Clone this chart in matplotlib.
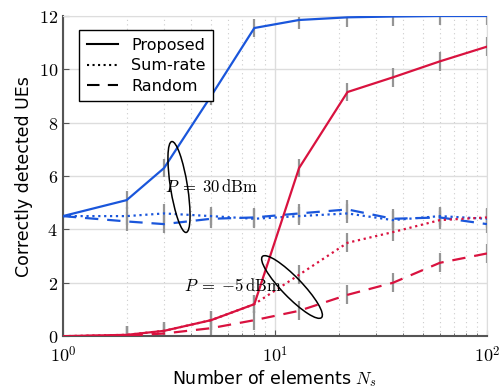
import numpy as np
import matplotlib.pyplot as plt
from matplotlib.patches import Ellipse

plt.rcParams['font.family'] = ['DejaVu Sans']
plt.rcParams['mathtext.fontset'] = 'cm'

# number of reflecting elements
Ns = [1, 2, 3, 5, 8, 13, 22, 36, 60, 100]

# P = 30 dBm
prop_30 = [4.5, 5.1, 6.3, 9.0, 11.55, 11.85, 11.95, 11.98, 12.0, 12.0]
sum_30 = [4.5, 4.5, 4.6, 4.5, 4.4, 4.5, 4.6, 4.35, 4.5, 4.4]
rand_30 = [4.5, 4.3, 4.2, 4.4, 4.45, 4.6, 4.75, 4.4, 4.45, 4.2]

# P = -5 dBm
prop_m5 = [0.0, 0.05, 0.2, 0.6, 1.2, 6.3, 9.15, 9.7, 10.3, 10.85]
sum_m5 = [0.0, 0.05, 0.2, 0.6, 1.2, 2.3, 3.5, 3.9, 4.35, 4.45]
rand_m5 = [0.0, 0.02, 0.1, 0.3, 0.6, 0.95, 1.55, 2.0, 2.75, 3.1]

blue = '#1a56db'
red = '#d9123f'
err_col = '#959595'

fig = plt.figure(figsize=(5.03, 3.9), dpi=100)
ax = fig.add_axes([0.125, 0.138, 0.843, 0.821])

series = [
    (prop_30, blue, '-'), (sum_30, blue, ':'), (rand_30, blue, (0, (6, 4))),
    (prop_m5, red, '-'), (sum_m5, red, ':'), (rand_m5, red, (0, (6, 4))),
]
for vals, col, ls in series:
    ax.errorbar(Ns[1:], vals[1:], yerr=0.35, fmt='none', ecolor=err_col,
                elinewidth=1.6, zorder=2)
    ax.plot(Ns, vals, color=col, linestyle=ls, linewidth=1.6, zorder=3)

# legend with black handles
ax.plot([], [], 'k-', lw=1.5, label='Proposed')
ax.plot([], [], 'k:', lw=1.5, label='Sum-rate')
ax.plot([], [], color='k', ls=(0, (6, 4)), lw=1.5, label='Random')
leg = ax.legend(loc='upper left', fontsize=11.5, fancybox=False,
                edgecolor='black', framealpha=1, handlelength=2.0,
                borderpad=0.45, labelspacing=0.35, bbox_to_anchor=(0.02, 0.98))
leg.get_frame().set_linewidth(1.0)

ax.set_xscale('log')
ax.set_xlim(1, 100)
ax.set_ylim(0, 12)
ax.set_yticks([0, 2, 4, 6, 8, 10, 12])
ax.set_yticklabels([f'${v}$' for v in [0, 2, 4, 6, 8, 10, 12]])
ax.set_xticks([1, 10, 100])
ax.set_xticklabels([r'$10^0$', r'$10^1$', r'$10^2$'])
ax.tick_params(axis='both', labelsize=13, direction='in', length=4, color='#555555')
ax.tick_params(axis='x', which='minor', direction='in', length=2, color='#555555')
ax.tick_params(axis='x', pad=7)

ax.grid(True, which='major', color='#dddddd', lw=1.0)
ax.grid(True, which='minor', axis='x', color='#cccccc', ls=(0, (1, 3)), lw=0.8)
ax.set_axisbelow(True)
for s in ['top', 'right']:
    ax.spines[s].set_color('#dddddd')
for s in ['left', 'bottom']:
    ax.spines[s].set_color('#555555')
    ax.spines[s].set_linewidth(1.5)

ax.set_xlabel(r'Number of elements $N_s$', fontsize=12.5, labelpad=1)
ax.set_ylabel('Correctly detected UEs', fontsize=12.5, labelpad=4)

# annotation ellipses (inch coordinates)
tr = fig.dpi_scale_trans
ax.add_artist(Ellipse((1.79, 3.9 - 1.87), 0.17, 0.92, angle=9, transform=tr,
                      fill=False, edgecolor='black', lw=1.1, zorder=5))
ax.add_artist(Ellipse((2.92, 3.9 - 2.87), 0.85, 0.2, angle=-46, transform=tr,
                      fill=False, edgecolor='black', lw=1.1, zorder=5))
fig.text(1.65 / 5.03, 1 - 1.87 / 3.9, r'$P \;=\; 30\,\mathrm{dBm}$', fontsize=12,
         va='center', ha='left', zorder=6)
fig.text(1.84 / 5.03, 1 - 2.86 / 3.9, r'$P \;=\; {-5}\,\mathrm{dBm}$', fontsize=12,
         va='center', ha='left', zorder=6)

fig.savefig('out.png', dpi=100)
